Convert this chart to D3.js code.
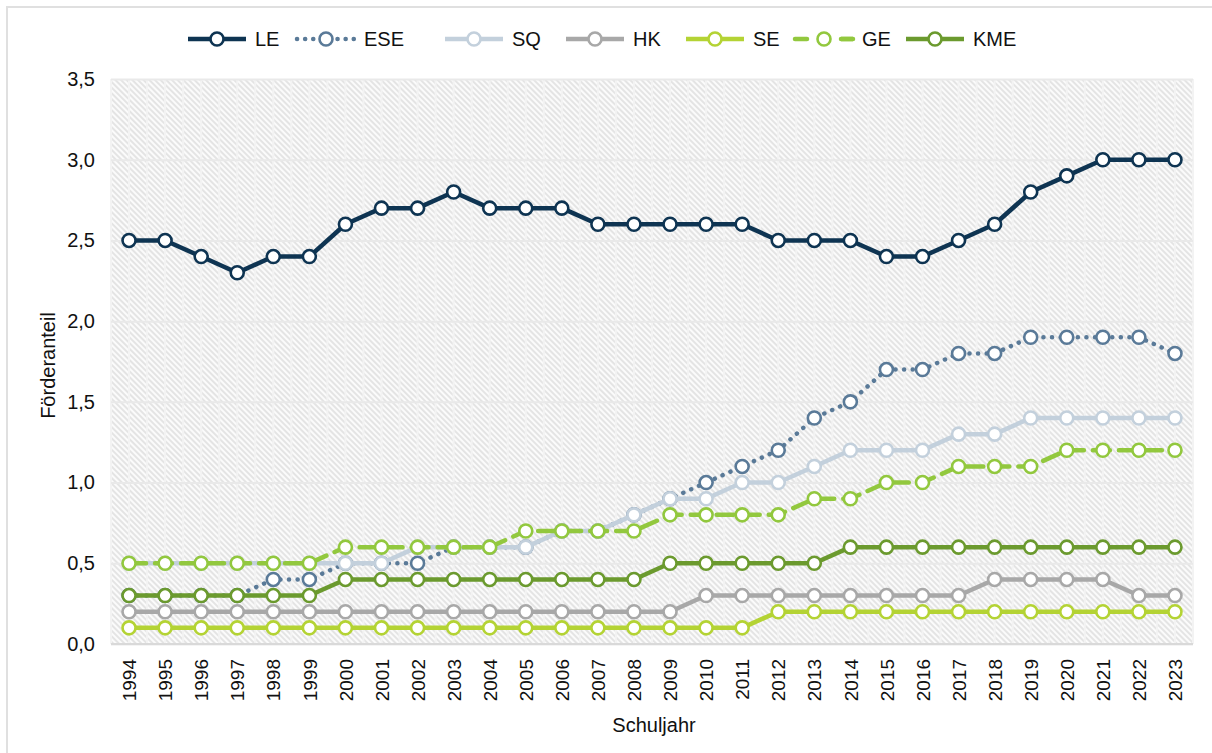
<!DOCTYPE html>
<html>
<head>
<meta charset="utf-8">
<script src="https://cdn.jsdelivr.net/npm/d3@7"></script>
<style>
  body { margin: 0; background: #fff; font-family: "Liberation Sans", Arial, sans-serif; }
  svg text { font-family: "Liberation Sans", Arial, sans-serif; fill: #111; }
</style>
</head>
<body>
<div id="chart"></div>
<script>
// data
var years = d3.range(1994, 2024).map(String);
var yTicks = [0, 0.5, 1.0, 1.5, 2.0, 2.5, 3.0, 3.5];
var seriesNames = ["LE", "ESE", "SQ", "HK", "SE", "GE", "KME"];

var LE  = [2.5,2.5,2.4,2.3,2.4,2.4,2.6,2.7,2.7,2.8,2.7,2.7,2.7,2.6,2.6,2.6,2.6,2.6,2.5,2.5,2.5,2.4,2.4,2.5,2.6,2.8,2.9,3.0,3.0,3.0];
var ESE = [0.3,0.3,0.3,0.3,0.4,0.4,0.5,0.5,0.5,0.6,0.6,0.6,0.7,0.7,0.8,0.9,1.0,1.1,1.2,1.4,1.5,1.7,1.7,1.8,1.8,1.9,1.9,1.9,1.9,1.8];
var SQ  = [0.5,0.5,0.5,0.5,0.5,0.5,0.5,0.5,0.6,0.6,0.6,0.6,0.7,0.7,0.8,0.9,0.9,1.0,1.0,1.1,1.2,1.2,1.2,1.3,1.3,1.4,1.4,1.4,1.4,1.4];
var HK  = [0.2,0.2,0.2,0.2,0.2,0.2,0.2,0.2,0.2,0.2,0.2,0.2,0.2,0.2,0.2,0.2,0.3,0.3,0.3,0.3,0.3,0.3,0.3,0.3,0.4,0.4,0.4,0.4,0.3,0.3];
var SE  = [0.1,0.1,0.1,0.1,0.1,0.1,0.1,0.1,0.1,0.1,0.1,0.1,0.1,0.1,0.1,0.1,0.1,0.1,0.2,0.2,0.2,0.2,0.2,0.2,0.2,0.2,0.2,0.2,0.2,0.2];
var GE  = [0.5,0.5,0.5,0.5,0.5,0.5,0.6,0.6,0.6,0.6,0.6,0.7,0.7,0.7,0.7,0.8,0.8,0.8,0.8,0.9,0.9,1.0,1.0,1.1,1.1,1.1,1.2,1.2,1.2,1.2];
var KME = [0.3,0.3,0.3,0.3,0.3,0.3,0.4,0.4,0.4,0.4,0.4,0.4,0.4,0.4,0.4,0.5,0.5,0.5,0.5,0.5,0.6,0.6,0.6,0.6,0.6,0.6,0.6,0.6,0.6,0.6];

var seriesValues = [LE, ESE, SQ, HK, SE, GE, KME];
var colors = ["#0e3452", "#5a7a98", "#c3d0dc", "#a8a8a8", "#b4d334", "#92c83e", "#6b9a2e"];
var dashes = [null, "0.1 8.5", null, null, null, "17 9", null];

var width = 1212, height = 753;
var plot = { left: 111, right: 1193, top: 79, bottom: 644 };

var svg = d3.select("#chart").append("svg")
    .attr("width", width)
    .attr("height", height);

// outer frame
svg.append("rect")
    .attr("x", 7).attr("y", 7)
    .attr("width", width + 10).attr("height", height + 10)
    .attr("fill", "none")
    .attr("stroke", "#e0e0e0")
    .attr("stroke-width", 2);

// hatch pattern
var defs = svg.append("defs");
var pat = defs.append("pattern")
    .attr("id", "hatch")
    .attr("patternUnits", "userSpaceOnUse")
    .attr("width", 4).attr("height", 4)
    .attr("patternTransform", "rotate(-45)");
pat.append("rect").attr("width", 4).attr("height", 4).attr("fill", "#fbfbfb");
pat.append("line")
    .attr("x1", 1).attr("y1", 0).attr("x2", 1).attr("y2", 4)
    .attr("stroke", "#d8d8d8").attr("stroke-width", 1.3);

var x = d3.scalePoint()
    .domain(years)
    .range([plot.left, plot.right])
    .padding(0.5);

var y = d3.scaleLinear()
    .domain([0, 3.5])
    .range([plot.bottom, plot.top]);

svg.append("rect")
    .attr("x", plot.left).attr("y", plot.top)
    .attr("width", plot.right - plot.left)
    .attr("height", plot.bottom - plot.top)
    .attr("fill", "url(#hatch)");

// vertical grid lines, every half category
var step = x.step();
var vLines = d3.range(0, years.length * 2 + 1).map(function (i) { return plot.left + i * step / 2; });
svg.append("g").selectAll("line")
    .data(vLines)
    .enter().append("line")
    .attr("x1", function (d) { return d; })
    .attr("x2", function (d) { return d; })
    .attr("y1", plot.top).attr("y2", plot.bottom)
    .attr("stroke", "#f3f3f3")
    .attr("stroke-width", 2);

// horizontal grid
var yAxis = d3.axisLeft(y)
    .tickValues(yTicks)
    .tickSize(-(plot.right - plot.left))
    .tickPadding(16)
    .tickFormat(function (d) { return d3.format(".1f")(d).replace(".", ","); });

var gy = svg.append("g")
    .attr("transform", "translate(" + plot.left + ",0)")
    .call(yAxis);
gy.select(".domain").remove();
gy.selectAll(".tick line").attr("stroke", "#e9e9e9").attr("stroke-width", 2);
gy.selectAll(".tick text").attr("font-size", 20).attr("fill", "#111");

// bottom axis line
svg.append("line")
    .attr("x1", plot.left).attr("x2", plot.right)
    .attr("y1", plot.bottom).attr("y2", plot.bottom)
    .attr("stroke", "#d9d9d9").attr("stroke-width", 2);

// x labels
var xAxis = d3.axisBottom(x).tickSize(0).tickPadding(0);
var gx = svg.append("g")
    .attr("transform", "translate(0," + plot.bottom + ")")
    .call(xAxis);
gx.select(".domain").remove();
gx.selectAll(".tick text")
    .attr("font-size", 19)
    .attr("fill", "#111")
    .attr("text-anchor", "end")
    .attr("dy", "0.35em")
    .attr("transform", "translate(0,15) rotate(-90)")
    .attr("x", 0).attr("y", 0);

// axis titles
svg.append("text")
    .attr("transform", "translate(55," + ((plot.top + plot.bottom) / 2 + 4) + ") rotate(-90)")
    .attr("text-anchor", "middle")
    .attr("font-size", 20)
    .text("Förderanteil");

svg.append("text")
    .attr("x", (plot.left + plot.right) / 2 + 2)
    .attr("y", 732)
    .attr("text-anchor", "middle")
    .attr("font-size", 20)
    .text("Schuljahr");

// lines
var line = d3.line()
    .x(function (d, i) { return x(years[i]); })
    .y(function (d) { return y(d); });

seriesValues.forEach(function (vals, s) {
    var g = svg.append("g").attr("class", "series series-" + seriesNames[s]);
    g.append("path")
        .datum(vals)
        .attr("d", line)
        .attr("fill", "none")
        .attr("stroke", colors[s])
        .attr("stroke-width", 4.5)
        .attr("stroke-linecap", dashes[s] ? "round" : "butt")
        .attr("stroke-linejoin", "round")
        .attr("stroke-dasharray", dashes[s]);
    g.selectAll("circle")
        .data(vals)
        .enter().append("circle")
        .attr("cx", function (d, i) { return x(years[i]); })
        .attr("cy", function (d) { return y(d); })
        .attr("r", 6.5)
        .attr("fill", "#fff")
        .attr("stroke", colors[s])
        .attr("stroke-width", 2.6);
});

// legend
var legendX = [188, 297, 445, 566, 686, 795, 906];
var legendY = 39;
var lg = svg.append("g").attr("class", "legend");
seriesNames.forEach(function (name, s) {
    var item = lg.append("g").attr("transform", "translate(" + legendX[s] + "," + legendY + ")");
    item.append("line")
        .attr("x1", 0).attr("x2", 58)
        .attr("y1", 0).attr("y2", 0)
        .attr("stroke", colors[s])
        .attr("stroke-width", 4.5)
        .attr("stroke-linecap", dashes[s] ? "round" : "butt")
        .attr("stroke-dasharray", s === 1 ? "0.1 8" : (s === 5 ? "12 34" : null));
    if (s === 5) {
        item.append("line")
            .attr("x1", 46).attr("x2", 58).attr("y1", 0).attr("y2", 0)
            .attr("stroke", colors[s]).attr("stroke-width", 4.5);
    }
    item.append("circle")
        .attr("cx", 29).attr("cy", 0)
        .attr("r", 6.5)
        .attr("fill", "#fff")
        .attr("stroke", colors[s])
        .attr("stroke-width", 2.6);
    item.append("text")
        .attr("x", 67).attr("y", 0)
        .attr("dy", "0.35em")
        .attr("font-size", 20)
        .text(name);
});
</script>
</body>
</html>
